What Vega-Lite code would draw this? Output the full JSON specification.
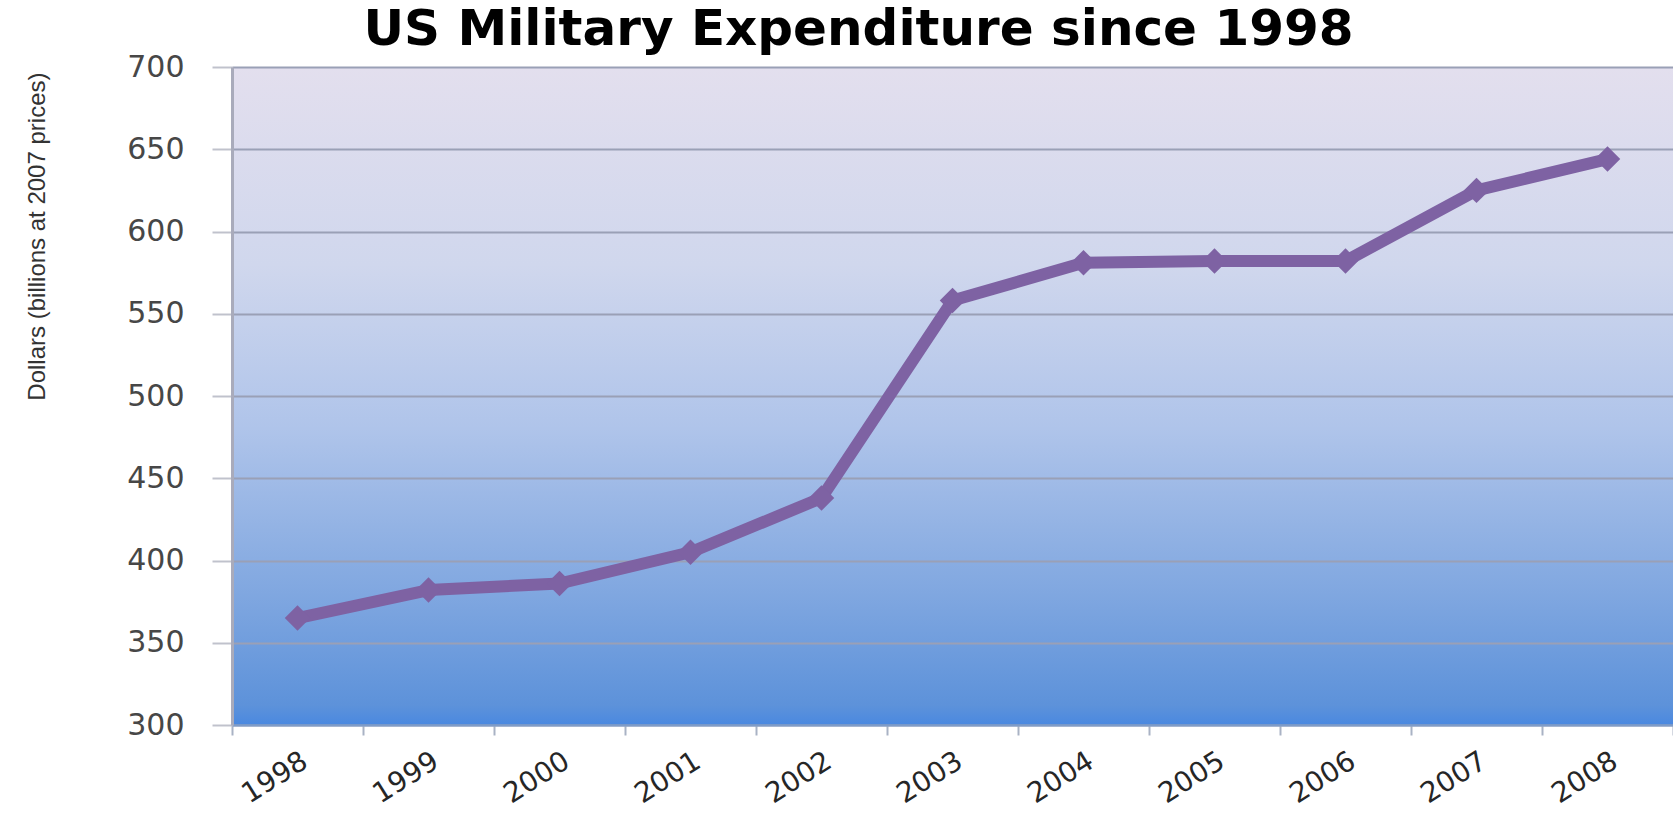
{
  "$schema": "https://vega.github.io/schema/vega-lite/v6.json",
  "width": 1441,
  "height": 658,
  "autosize": "none",
  "padding": {"left": 232, "top": 67, "right": 0, "bottom": 90},
  "background": "white",
  "title": {
    "text": "US Military Expenditure since 1998",
    "font": "DejaVu Sans",
    "fontSize": 50,
    "fontWeight": "bold",
    "color": "black",
    "anchor": "middle",
    "dx": -94,
    "offset": -3
  },
  "data": {
    "values": [
      {"year": "1998", "value": 365},
      {"year": "1999", "value": 382},
      {"year": "2000", "value": 386},
      {"year": "2001", "value": 405},
      {"year": "2002", "value": 438},
      {"year": "2003", "value": 558},
      {"year": "2004", "value": 581},
      {"year": "2005", "value": 582},
      {"year": "2006", "value": 582},
      {"year": "2007", "value": 625},
      {"year": "2008", "value": 644}
    ]
  },
  "encoding": {
    "x": {
      "field": "year",
      "type": "ordinal",
      "scale": {"type": "band", "paddingInner": 0, "paddingOuter": 0},
      "axis": {
        "title": null,
        "labelAngle": -32,
        "labelAlign": "right",
        "labelBaseline": "top",
        "labelFont": "DejaVu Sans",
        "labelFontSize": 28,
        "labelColor": "#262626",
        "labelPadding": 12,
        "tickBand": "extent",
        "tickSize": 10,
        "tickColor": "#a9b2c4",
        "tickWidth": 2,
        "domainColor": "#7f9cc8",
        "domainWidth": 2,
        "grid": false
      }
    },
    "y": {
      "field": "value",
      "type": "quantitative",
      "scale": {"domain": [300, 700], "nice": false, "zero": false},
      "axis": {
        "values": [300, 350, 400, 450, 500, 550, 600, 650, 700],
        "title": "Dollars (billions at 2007 prices)",
        "titleFont": "Liberation Sans",
        "titleFontSize": 24,
        "titleFontWeight": "normal",
        "titleColor": "#333333",
        "titleAngle": -90,
        "titleX": -195,
        "titleY": 5,
        "titleAlign": "right",
        "titleBaseline": "middle",
        "grid": true,
        "gridColor": "#9aa0b6",
        "gridWidth": 2,
        "tickSize": 20,
        "tickColor": "#c0c2cc",
        "tickWidth": 2,
        "labelPadding": 28,
        "labelFont": "DejaVu Sans",
        "labelFontSize": 30,
        "labelColor": "#474747",
        "domainColor": "#a9abbb",
        "domainWidth": 3
      }
    }
  },
  "layer": [
    {
      "mark": {"type": "line", "color": "#7e62a3", "strokeWidth": 12, "strokeJoin": "round"}
    },
    {
      "mark": {"type": "point", "shape": "diamond", "filled": true, "size": 650, "color": "#7e62a3", "opacity": 1}
    }
  ],
  "config": {
    "view": {
      "stroke": null,
      "fill": {
        "gradient": "linear",
        "x1": 0, "y1": 0, "x2": 0, "y2": 1,
        "stops": [
          {"offset": 0, "color": "#e3dfee"},
          {"offset": 0.3, "color": "#d0d7ed"},
          {"offset": 0.55, "color": "#afc4ea"},
          {"offset": 0.8, "color": "#80a7e0"},
          {"offset": 0.97, "color": "#5d92da"},
          {"offset": 1, "color": "#4a88e0"}
        ]
      }
    }
  }
}
